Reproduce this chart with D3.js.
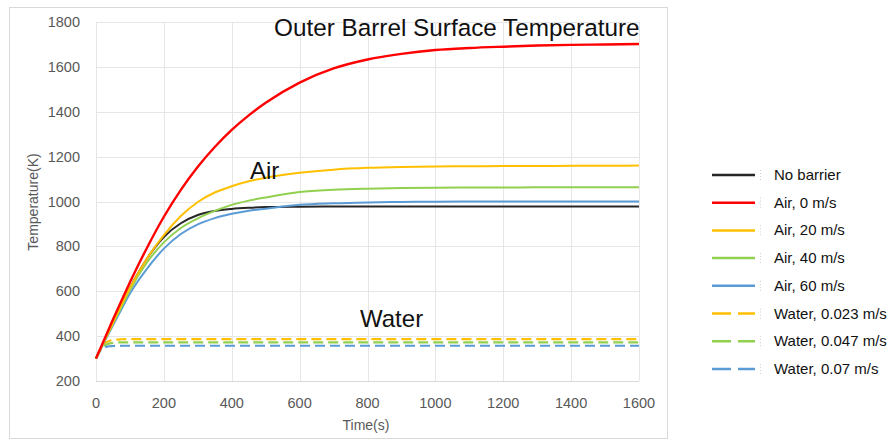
<!DOCTYPE html>
<html>
<head>
<meta charset="utf-8">
<script src="https://cdnjs.cloudflare.com/ajax/libs/d3/7.8.5/d3.min.js"></script>
<style>
  body { margin: 0; background: #fff; }
  text { font-family: "Liberation Sans", Arial, sans-serif; }
</style>
</head>
<body>
<div id="chart"></div>
<script>
// time samples (s)
var airTimes = [0,25,50,75,100,150,200,250,300,350,400,450,500,600,700,800,900,1000,1100,1200,1300,1400,1500,1600];
var waterTimes = [0,10,20,30,40,50,75,100,1600];

// temperatures (K)
var noBarrier = [300,380,460,540,615,745,842,903,940,958,967,972,975,977,978,978,978,978,978,978,978,978,978,978];
var air0  = [300,387,474,558,640,793,932,1052,1155,1243,1319,1384,1440,1530,1593,1633,1658,1675,1684,1690,1695,1698,1700,1702];
var air20 = [300,380,460,540,615,745,850,935,998,1040,1068,1090,1106,1128,1142,1150,1154,1156,1157,1158,1158,1159,1159,1160];
var air40 = [300,378,455,530,605,728,818,882,925,958,985,1004,1018,1042,1052,1057,1060,1061,1062,1062,1063,1063,1063,1063];
var air60 = [300,375,448,520,590,700,790,855,898,926,945,959,968,985,992,996,998,999,1000,1000,1000,1000,1000,1000];
var water023 = [300,335,358,372,379,383,386,387,387];
var water047 = [300,333,352,362,367,370,372,372,372];
var water07  = [300,330,345,352,355,356,357,357,357];

var xTicks = [0,200,400,600,800,1000,1200,1400,1600];
var yTicks = [200,400,600,800,1000,1200,1400,1600,1800];

var series = [
	{name:'No barrier',        t:airTimes,   v:noBarrier, color:'#262626', dash:null},
	{name:'Air, 0 m/s',        t:airTimes,   v:air0,      color:'#ff0000', dash:null},
	{name:'Air, 20 m/s',       t:airTimes,   v:air20,     color:'#ffc000', dash:null},
	{name:'Air, 40 m/s',       t:airTimes,   v:air40,     color:'#92d050', dash:null},
	{name:'Air, 60 m/s',       t:airTimes,   v:air60,     color:'#5b9bd5', dash:null},
	{name:'Water, 0.023 m/s',  t:waterTimes, v:water023,  color:'#ffc000', dash:'10,5'},
	{name:'Water, 0.047 m/s',  t:waterTimes, v:water047,  color:'#92d050', dash:'10,5'},
	{name:'Water, 0.07 m/s',   t:waterTimes, v:water07,   color:'#5b9bd5', dash:'10,5'}
];

var W = 890, H = 439;
var svg = d3.select('#chart')
	.append('svg')
	.attr('width', W)
	.attr('height', H);

// chart frame
svg.append('rect')
	.attr('x', 9.5).attr('y', 7.5)
	.attr('width', 658).attr('height', 431)
	.attr('fill', '#fff')
	.attr('stroke', '#d9d9d9');

var x = d3.scaleLinear().domain([0,1600]).range([96,639]);
var y = d3.scaleLinear().domain([200,1800]).range([381,22]);

// grid
svg.append('g').selectAll('line').data(xTicks).join('line')
	.attr('x1', d => Math.round(x(d)) + 0.5).attr('x2', d => Math.round(x(d)) + 0.5)
	.attr('y1', y(1800)).attr('y2', y(200))
	.attr('stroke', '#e6e6e6');
svg.append('g').selectAll('line').data(yTicks).join('line')
	.attr('x1', x(0)).attr('x2', x(1600))
	.attr('y1', d => Math.round(y(d)) + 0.5).attr('y2', d => Math.round(y(d)) + 0.5)
	.attr('stroke', d => d === 200 ? '#d9d9d9' : '#e6e6e6');

// tick labels
svg.append('g').selectAll('text').data(yTicks).join('text')
	.attr('x', 80).attr('y', d => y(d) + 5)
	.attr('text-anchor', 'end')
	.attr('font-size', 14.5)
	.attr('fill', '#595959')
	.text(d => d);
svg.append('g').selectAll('text').data(xTicks).join('text')
	.attr('x', d => x(d)).attr('y', 408)
	.attr('text-anchor', 'middle')
	.attr('font-size', 14.5)
	.attr('fill', '#595959')
	.text(d => d);

// axis titles
svg.append('text')
	.attr('transform', 'translate(38,202) rotate(-90)')
	.attr('text-anchor', 'middle')
	.attr('font-size', 14)
	.attr('fill', '#595959')
	.text('Temperature(K)');
svg.append('text')
	.attr('x', 366).attr('y', 430)
	.attr('text-anchor', 'middle')
	.attr('font-size', 14)
	.attr('fill', '#595959')
	.text('Time(s)');

// curves
var line = d3.line()
	.x(d => x(d[0]))
	.y(d => y(d[1]))
	.curve(d3.curveMonotoneX);

var drawOrder = [5,6,7,0,4,3,2,1];
svg.append('g').selectAll('path').data(drawOrder.map(i => series[i])).join('path')
	.attr('d', s => line(s.t.map((t,i) => [t, s.v[i]])))
	.attr('fill', 'none')
	.attr('stroke', s => s.color)
	.attr('stroke-width', s => s.name === 'Air, 0 m/s' ? 2.4 : (s.dash ? 2.2 : 2))
	.attr('stroke-dasharray', s => s.dash);

// labels inside the plot
svg.append('text')
	.attr('x', 274).attr('y', 36)
	.attr('font-size', 24.3)
	.attr('fill', '#111')
	.text('Outer Barrel Surface Temperature');
svg.append('text')
	.attr('x', 250).attr('y', 179)
	.attr('font-size', 24)
	.attr('fill', '#111')
	.text('Air');
svg.append('text')
	.attr('x', 360).attr('y', 327)
	.attr('font-size', 24)
	.attr('fill', '#111')
	.text('Water');

// legend
var leg = svg.append('g').selectAll('g').data(series).join('g')
	.attr('transform', (d,i) => 'translate(0,' + (175 + i*27.7) + ')');
leg.append('line')
	.attr('x1', 712).attr('x2', 755)
	.attr('stroke', d => d.color)
	.attr('stroke-width', 2.5)
	.attr('stroke-dasharray', d => d.dash ? '19,7' : null);
leg.append('line')
	.attr('x1', 760.5).attr('x2', 760.5)
	.attr('y1', -5).attr('y2', 5)
	.attr('stroke', '#cfcfcf')
	.attr('stroke-dasharray', '1,2');
leg.append('text')
	.attr('x', 774).attr('y', 5)
	.attr('font-size', 15)
	.attr('fill', '#111')
	.text(d => d.name);
</script>
</body>
</html>
